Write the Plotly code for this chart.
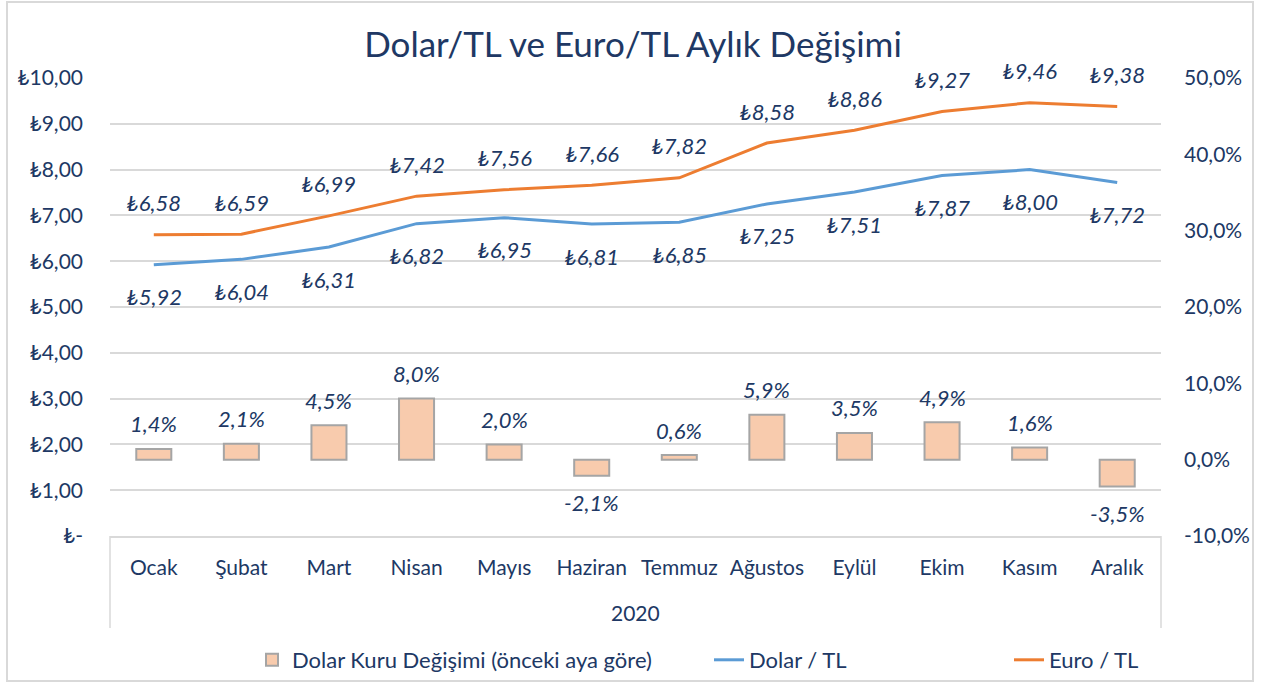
import plotly.graph_objects as go

months = ["Ocak", "Şubat", "Mart", "Nisan", "Mayıs", "Haziran", "Temmuz",
          "Ağustos", "Eylül", "Ekim", "Kasım", "Aralık"]
dolar = [5.92, 6.04, 6.31, 6.82, 6.95, 6.81, 6.85, 7.25, 7.51, 7.87, 8.00, 7.72]
euro = [6.58, 6.59, 6.99, 7.42, 7.56, 7.66, 7.82, 8.58, 8.86, 9.27, 9.46, 9.38]
change = [1.4, 2.1, 4.5, 8.0, 2.0, -2.1, 0.6, 5.9, 3.5, 4.9, 1.6, -3.5]

left_ticks = [0, 1, 2, 3, 4, 5, 6, 7, 8, 9, 10]
left_text = ["₺-"] + [f"₺{v},00" for v in left_ticks[1:]]
right_ticks = [-10, 0, 10, 20, 30, 40, 50]
right_text = [f"{v},0%" for v in right_ticks]

NAVY = "#203864"
FONT = "Lato, 'Noto Sans', 'DejaVu Sans', sans-serif"
FS = 21

def tl(v):
    return "₺" + f"{v:.2f}".replace(".", ",")

def pct(v):
    return f"{v:.1f}".replace(".", ",") + "%"

# plot area in px: x 110..1161, y 78..536
PL, PR, PT, PB = 110, 1161, 78, 536
PW, PH = PR - PL, PB - PT

def px(x):
    return (x - PL) / PW

def py(y):
    return (PB - y) / PH

fig = go.Figure()
fig.add_trace(go.Bar(
    x=months, y=change, yaxis="y2", name="Dolar Kuru Değişimi (önceki aya göre)",
    marker=dict(color="#F8CBAD", line=dict(color="#A5A5A5", width=2)),
    width=0.4, legend="legend",
))
fig.add_trace(go.Scatter(
    x=months, y=dolar, mode="lines", name="Dolar / TL",
    line=dict(color="#5B9BD5", width=3), legend="legend2",
))
fig.add_trace(go.Scatter(
    x=months, y=euro, mode="lines", name="Euro / TL",
    line=dict(color="#ED7D31", width=3), legend="legend3",
))

ann = []
lab_font = dict(family=FONT, size=22, color=NAVY, style="italic")
for m, v in zip(months, euro):
    ann.append(dict(x=m, y=v, xref="x", yref="y", text=tl(v), showarrow=False,
                    yshift=32, font=lab_font))
for m, v in zip(months, dolar):
    ann.append(dict(x=m, y=v, xref="x", yref="y", text=tl(v), showarrow=False,
                    yshift=-32, font=lab_font))
for m, v in zip(months, change):
    ann.append(dict(x=m, y=v, xref="x", yref="y2", text=pct(v), showarrow=False,
                    yshift=25 if v >= 0 else -27, font=lab_font))
ann.append(dict(x=0.5, y=py(612), xref="paper", yref="paper", text="2020",
                showarrow=False, yanchor="middle",
                font=dict(family=FONT, size=FS, color=NAVY)))

shapes = [
    dict(type="line", xref="paper", yref="paper", x0=0, x1=0, y0=0, y1=py(628),
         line=dict(color="#D9D9D9", width=1.5)),
    dict(type="line", xref="paper", yref="paper", x0=1, x1=1, y0=0, y1=py(628),
         line=dict(color="#D9D9D9", width=1.5)),
    dict(type="rect", xref="paper", yref="paper",
         x0=px(7), x1=px(1253), y0=py(681), y1=py(2),
         line=dict(color="#D9D9D9", width=2), layer="below"),
]

leg_common = dict(orientation="h", yanchor="middle", y=py(660), xanchor="left",
                  font=dict(family=FONT, size=22, color=NAVY),
                  bgcolor="rgba(0,0,0,0)")

fig.update_layout(
    width=1266, height=684,
    margin=dict(l=PL, r=1266 - PR, t=PT, b=684 - PB, autoexpand=False),
    paper_bgcolor="white", plot_bgcolor="white",
    font=dict(family=FONT, size=FS, color=NAVY),
    title=dict(text="Dolar/TL ve Euro/TL Aylık Değişimi", x=0.5, xanchor="center",
               y=1 - 45 / 684, yanchor="middle",
               font=dict(family=FONT, size=35, color=NAVY)),
    xaxis=dict(type="category", range=[-0.5, 11.5], showgrid=False, showline=True,
               linecolor="#D9D9D9", linewidth=1.5, ticks="", ticklabelstandoff=12,
               automargin=False, tickfont=dict(family=FONT, size=FS, color=NAVY)),
    yaxis=dict(range=[0, 10], tickvals=left_ticks, ticktext=left_text, showgrid=True,
               gridcolor="#D9D9D9", gridwidth=1.5, zeroline=False, showline=False,
               ticklabelstandoff=26, automargin=False,
               tickfont=dict(family=FONT, size=FS, color=NAVY)),
    yaxis2=dict(range=[-10, 50], overlaying="y", side="right", tickvals=right_ticks,
                ticktext=right_text, showgrid=False, zeroline=False, showline=False,
                ticklabelstandoff=22, automargin=False,
                tickfont=dict(family=FONT, size=FS, color=NAVY)),
    legend=dict(x=px(252), **leg_common),
    legend2=dict(x=px(709), **leg_common),
    legend3=dict(x=px(1009), **leg_common),
    showlegend=True,
    annotations=ann,
    shapes=shapes,
)

fig.write_html("out.html", config={"displayModeBar": False},
               post_script="document.body.style.margin='0';")
